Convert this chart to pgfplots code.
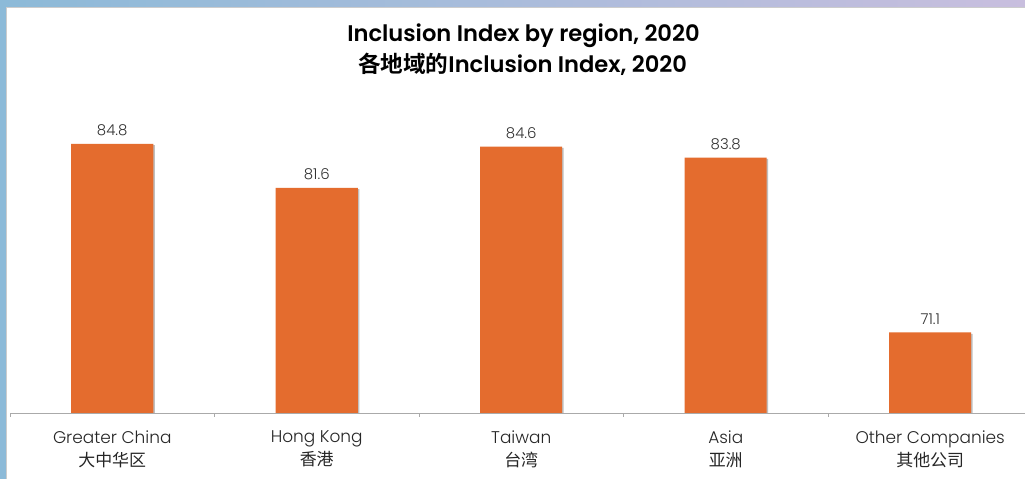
\documentclass[border=0pt]{standalone}
\usepackage{pgfplots}
\pgfplotsset{compat=1.18}
\usepackage{fontspec}
\setmainfont{Poppins}[UprightFont=* Light, BoldFont=* SemiBold]
\newfontfamily\cjk{Noto Sans CJK SC}[BoldFont=* Bold]
\definecolor{barorange}{RGB}{228,108,46}
\definecolor{axisgray}{RGB}{170,170,170}
\definecolor{labelgray}{RGB}{50,50,50}
\definecolor{stripblue}{RGB}{140,186,216}
\definecolor{striplav}{RGB}{200,190,222}
\begin{document}
\begin{tikzpicture}[x=1bp,y=1bp]
\useasboundingbox (0,0) rectangle (1025,479);
\fill[white] (0,0) rectangle (1025,479);
\shade[left color=stripblue, right color=striplav] (0,472) rectangle (1025,479);
\fill[stripblue] (0,0) rectangle (6,479);
\draw[gray!40, line width=0.8bp] (6.4,0) -- (6.4,471.6) -- (1025,471.6);
\node[anchor=base, font=\bfseries\fontsize{22.7}{27}\selectfont] at (523.5,437) {Inclusion Index by region, 2020};
\node[anchor=base, font=\bfseries\fontsize{22.7}{27}\selectfont] at (522.5,406) {{\cjk 各地域的}Inclusion Index, 2020};
\begin{axis}[
  at={(10bp,66bp)}, anchor=south west,
  scale only axis, width=1022.5bp, height=409.7bp,
  xmin=-0.5, xmax=4.5, ymin=65.25, ymax=95,
  axis x line*=bottom, axis y line=none,
  axis line style={axisgray, line width=0.8bp},
  ybar, bar width=82bp, bar shift=0pt,
  xtick={0,1,2,3,4}, major tick length=0pt,
  xticklabels={{Greater China\\{\cjk 大中华区}},{Hong Kong\\{\cjk 香港}},{Taiwan\\{\cjk 台湾}},{Asia\\{\cjk 亚洲}},{Other Companies\\{\cjk 其他公司}}},
  xticklabel style={align=center, font=\fontsize{17}{23}\selectfont, text=black!85, yshift=-14bp},
  extra x ticks={-0.5,0.5,1.5,2.5,3.5,4.5}, extra x tick labels={},
  extra x tick style={major tick length=4bp, tick align=outside, tick style={axisgray, line width=0.8bp}},
  /pgf/number format/assume math mode=true,
  /pgf/number format/fixed, /pgf/number format/precision=1,
  nodes near coords,
  every node near coord/.append style={font=\fontsize{15}{17}\selectfont, text=labelgray, yshift=4.5bp},
  clip=false,
]
\addplot[fill=black!25, draw=none, bar shift=1.5bp, forget plot, nodes near coords=\relax] coordinates {(0,84.7) (1,81.5) (2,84.5) (3,83.7) (4,71.0)};
\addplot[fill=barorange, draw=none] coordinates {(0,84.8) (1,81.6) (2,84.6) (3,83.8) (4,71.1)};
\end{axis}
\end{tikzpicture}
\end{document}
